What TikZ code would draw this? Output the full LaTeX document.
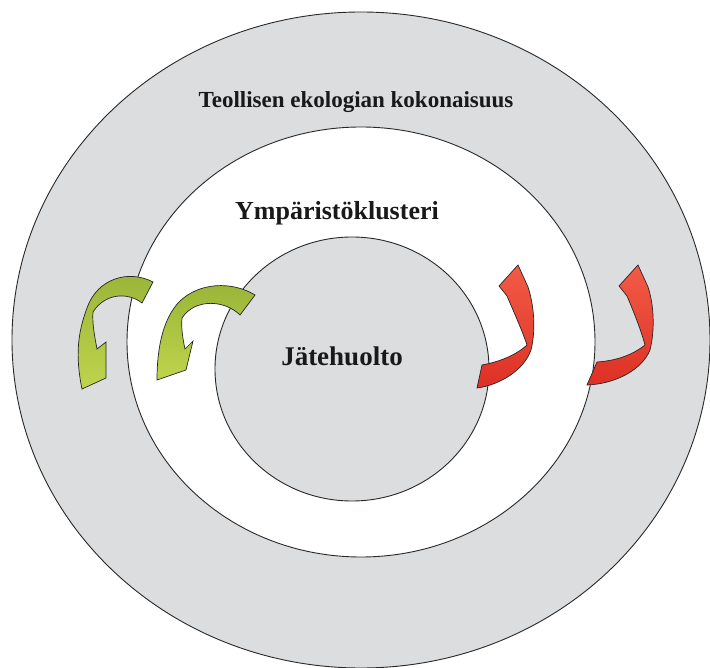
\documentclass[tikz,border=0pt]{standalone}
\usepackage{fontspec}
\setmainfont{Liberation Serif}
\begin{document}
\begin{tikzpicture}[x=1pt,y=-1pt]
\definecolor{ringgray}{RGB}{220,221,223}
\definecolor{edgegray}{RGB}{40,40,40}
\definecolor{greentop}{RGB}{152,180,56}
\definecolor{greenbot}{RGB}{192,212,76}
\definecolor{redtop}{RGB}{242,92,70}
\definecolor{redbot}{RGB}{222,48,38}
\tikzset{
  ring/.style={draw=edgegray, line width=0.9pt},
  greenarrow/.style={draw=black!85, line width=0.7pt, top color=greentop, bottom color=greenbot},
  redarrow/.style={draw=black!85, line width=0.7pt, top color=redtop, bottom color=redbot},
  title/.style={font=\bfseries\fontsize{23}{27}\selectfont, anchor=base, text=black!90},
  label/.style={font=\bfseries\fontsize{26}{30}\selectfont, anchor=base, text=black!90}
}
\useasboundingbox (0,0) rectangle (710,668);
\fill[white] (0,0) rectangle (710,668);

% the three nested rings
\begin{scope}
  \clip (0,0) rectangle (710,668);
  \fill[ringgray] (361,340) ellipse [x radius=349pt, y radius=328pt];
  \draw[ring] (361,340) ellipse [x radius=349pt, y radius=328pt];
\end{scope}
\filldraw[ring, fill=white] (361,342) ellipse [x radius=234pt, y radius=215pt];
\filldraw[ring, fill=ringgray] (352,369) ellipse [x radius=137pt, y radius=132pt];

% titles
\node[title] (whole) at (356,108) {Teollisen ekologian kokonaisuus};
\node[label] (cluster) at (337,220) {Ympäristöklusteri};
\node[label, font=\bfseries\fontsize{27}{31}\selectfont] (waste) at (342,366) {Jätehuolto};

% green twisted arrows (left side)
\path[greenarrow]
  (153,282) .. controls (128,269) and (97,279) .. (87,308)
  .. controls (78,332) and (75,355) .. (82,389)
  -- (106,378) -- (106,342) -- (97,349)
  .. controls (95,338) and (92,324) .. (93,312)
  .. controls (105,293) and (128,292) .. (142,303) -- cycle;
\path[greenarrow]
  (255,295) .. controls (232,281) and (199,282) .. (179,302)
  .. controls (164,318) and (157,345) .. (157,380)
  -- (186,370) -- (193,341) -- (185,349)
  .. controls (183,340) and (181,328) .. (182,318)
  .. controls (195,298) and (225,300) .. (240,315) -- cycle;

% red twisted arrows (right side)
\path[redarrow]
  (518,265) -- (499,286) -- (507,296)
  .. controls (513,310) and (522,330) .. (527,345)
  .. controls (515,356) and (498,362) .. (482,365)
  -- (477,388)
  .. controls (500,385) and (524,370) .. (531,350)
  .. controls (536,330) and (534,305) .. (528,287) -- cycle;
\path[redarrow]
  (638,265) -- (619,286) -- (627,296)
  .. controls (633,310) and (641,330) .. (645,345)
  .. controls (630,357) and (612,361) .. (597,362)
  -- (587,385)
  .. controls (615,384) and (642,370) .. (650,350)
  .. controls (655,330) and (654,305) .. (648,287) -- cycle;
\end{tikzpicture}
\end{document}
